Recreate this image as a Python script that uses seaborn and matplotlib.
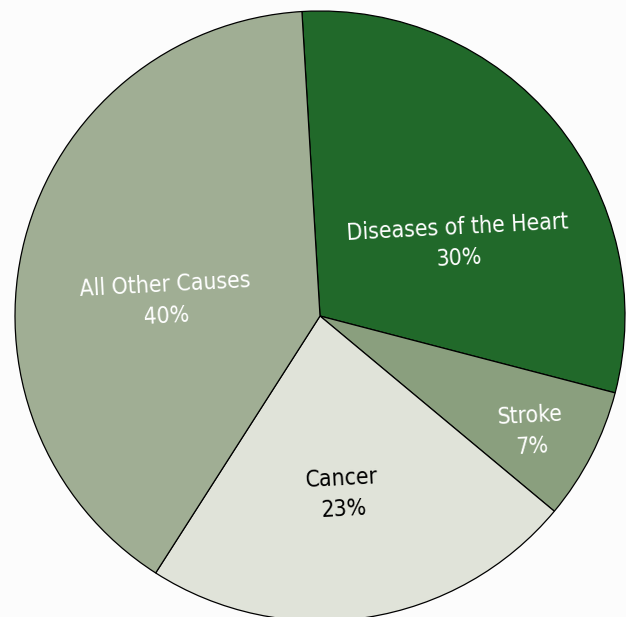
import matplotlib
matplotlib.use("Agg")
import matplotlib.pyplot as plt
from matplotlib import font_manager
import seaborn as sns

causes = ["Diseases of the Heart", "Stroke", "Cancer", "All Other Causes"]
shares = [30, 7, 23, 40]
colors = ["#21692a", "#8a9f7e", "#e0e3d9", "#a0ae94"]
text_colors = ["white", "white", "black", "white"]
# label centres in figure pixels (x, y from top)
label_pos = [(458, 243), (531, 431), (343, 494), (166, 301)]

sns.set_theme(style="white")

# look for a narrow face, the reference uses an Arial Narrow look
narrow = None
for f in font_manager.fontManager.ttflist:
    tag = (f.name + " " + f.fname).lower()
    if ("narrow" in tag or "condensed" in tag) and f.style == "normal" and f.weight in (400, "normal", "regular"):
        narrow = f
        break
if narrow is not None:
    font_kw = {"fontproperties": font_manager.FontProperties(fname=narrow.fname, size=16.5)}
else:
    font_kw = {"family": "Liberation Sans", "fontsize": 15}

W, H = 626, 617
fig = plt.figure(figsize=(W / 100, H / 100), dpi=100, facecolor="#fcfcfc")
ax = fig.add_axes([0, 0, 1, 1])
ax.set_facecolor("#fcfcfc")

ax.pie(shares, colors=colors, startangle=93.4, counterclock=False,
       center=(320, H - 316), radius=305,
       wedgeprops={"edgecolor": "black", "linewidth": 0.9})

for name, val, (x, y), tc in zip(causes, shares, label_pos, text_colors):
    ax.text(x, H - y, f"{name}\n{val}%", ha="center", va="center",
            color=tc, rotation=3, linespacing=1.45,
            rotation_mode="anchor", **font_kw)

ax.set_xlim(0, W)
ax.set_ylim(0, H)
ax.set_aspect("equal")
ax.axis("off")
fig.savefig("out.png", dpi=100, facecolor=fig.get_facecolor())
